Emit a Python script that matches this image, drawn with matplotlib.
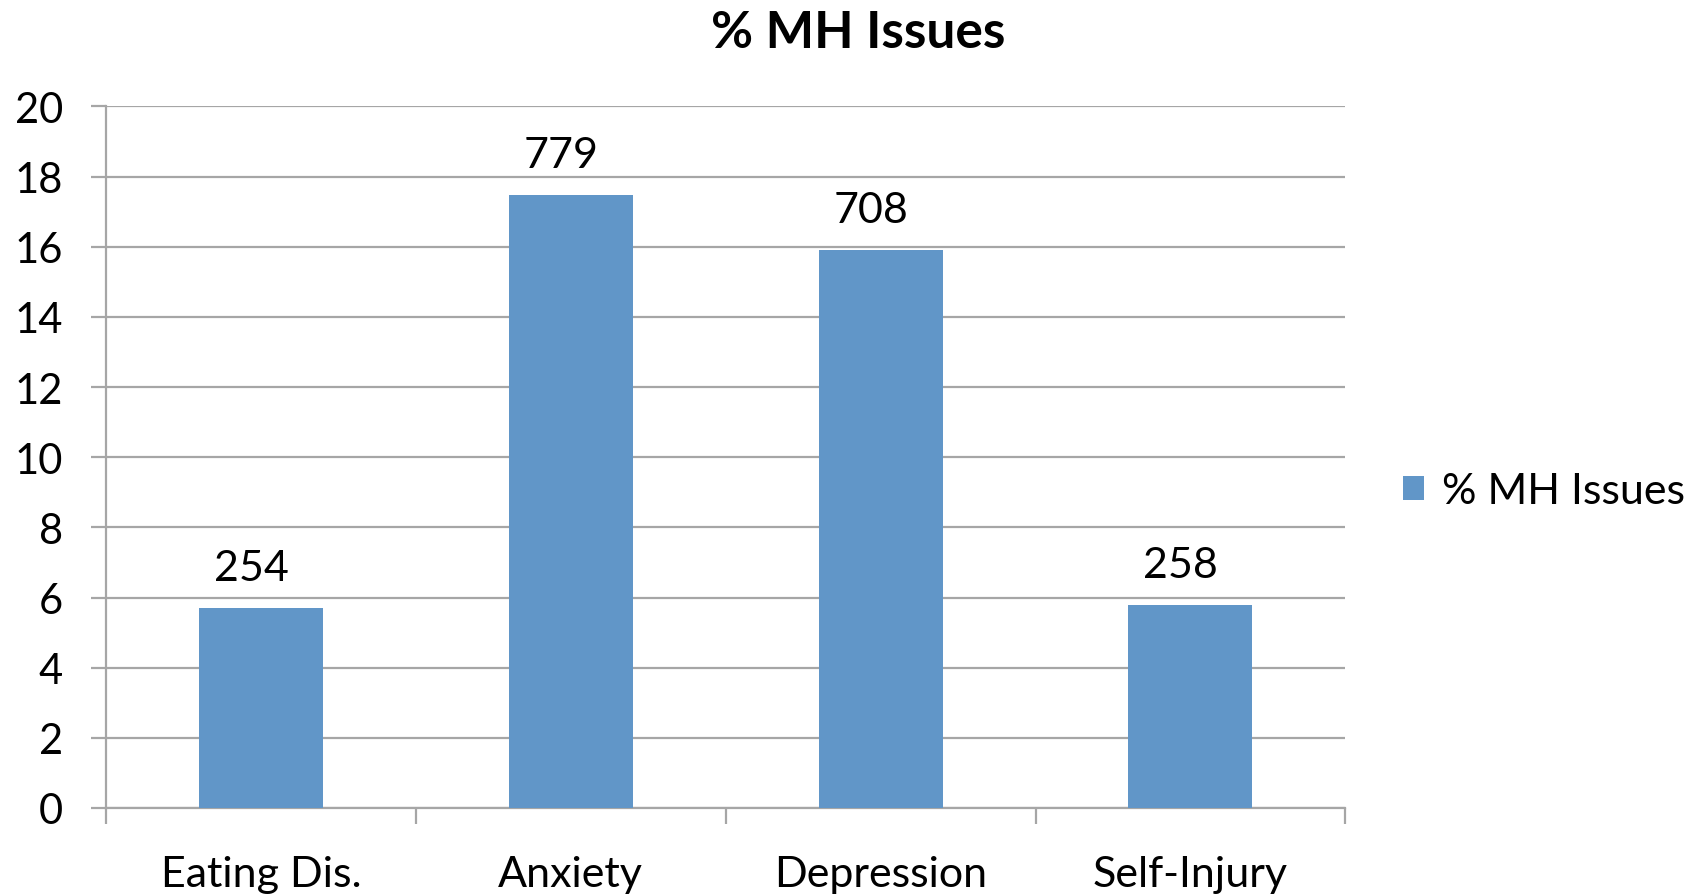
import matplotlib
matplotlib.use("Agg")
import matplotlib.pyplot as plt
import numpy as np

# data
categories = ["Eating Dis.", "Anxiety", "Depression", "Self-Injury"]
pct_values = [5.7, 17.48, 15.9, 5.78]
counts = ["254", "779", "708", "258"]
series_name = "% MH Issues"

bar_color = "#6196c8"
grid_color = "#a6a6a6"

plt.rcParams["font.family"] = ["Lato", "DejaVu Sans"]

fig = plt.figure(figsize=(17.03, 8.95), dpi=100)
ax = fig.add_axes([0.0622, 0.0961, 0.7278, 0.7839])

x = np.arange(len(categories)) + 0.5
bars = ax.bar(x, pct_values, width=0.4, color=bar_color, label=series_name, zorder=3)

for xi, v, c in zip(x, pct_values, counts):
    ax.annotate(c, (xi, v), xytext=(-7, 29), textcoords="offset points",
                ha="center", va="center", fontsize=31)

ax.set_xlim(0, len(categories))
ax.set_ylim(0, 20)
ax.set_yticks(np.arange(0, 21, 2))
ax.yaxis.grid(True, color=grid_color, linewidth=1.6, zorder=0)

ax.set_xticks(np.arange(0, len(categories) + 1))
ax.set_xticklabels([])
ax.set_xticks(x, minor=True)
ax.set_xticklabels(categories, minor=True, fontsize=31)
ax.tick_params(axis="x", which="major", length=11.5, width=1.6, color=grid_color)
ax.tick_params(axis="x", which="minor", length=0, pad=34)
ax.tick_params(axis="y", length=11, width=1.6, color=grid_color, pad=20, labelsize=30)

for s in ["top", "right"]:
    ax.spines[s].set_visible(False)
for s in ["left", "bottom"]:
    ax.spines[s].set_color(grid_color)
    ax.spines[s].set_linewidth(1.6)

fig.suptitle(series_name, x=0.504, y=0.963, va="center", fontsize=37, fontweight="bold")

fig.legend(handles=[bars], labels=[series_name], loc="center left",
           bbox_to_anchor=(0.801, 0.45), frameon=False, fontsize=31,
           handlelength=0.5, handleheight=0.5, handletextpad=0.4)

fig.savefig("out.png", dpi=100)
